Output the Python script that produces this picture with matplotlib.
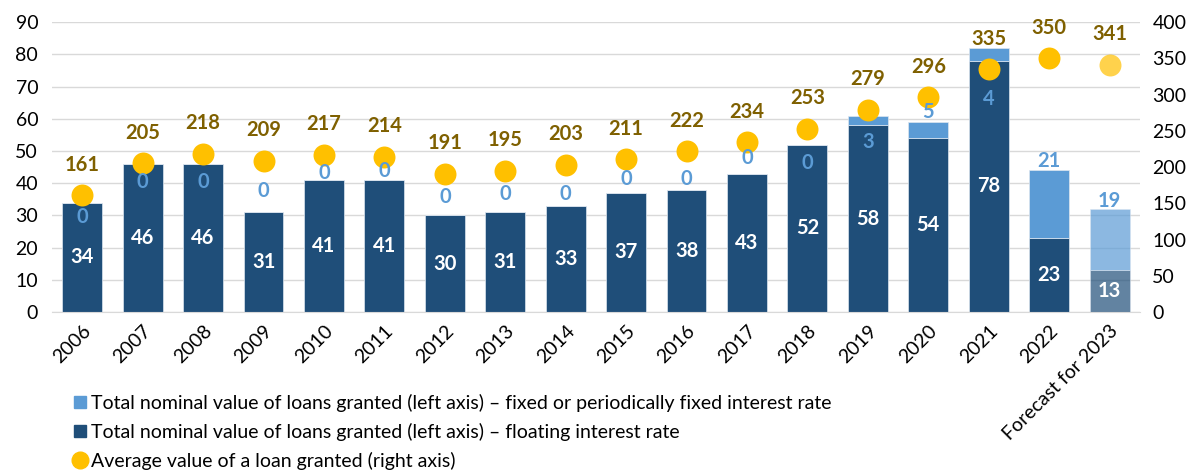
import matplotlib
matplotlib.use("Agg")
import matplotlib.pyplot as plt
from matplotlib.lines import Line2D
from matplotlib.patches import Patch
import numpy as np

plt.rcParams['font.family'] = ['Lato', 'DejaVu Sans']

categories = ['2006', '2007', '2008', '2009', '2010', '2011', '2012', '2013', '2014',
              '2015', '2016', '2017', '2018', '2019', '2020', '2021', '2022',
              'Forecast for 2023']
floating = [34, 46, 46, 31, 41, 41, 30, 31, 33, 37, 38, 43, 52, 58, 54, 78, 23, 13]
fixed = [0, 0, 0, 0, 0, 0, 0, 0, 0, 0, 0, 0, 0, 3, 5, 4, 21, 19]
avg_value = [161, 205, 218, 209, 217, 214, 191, 195, 203, 211, 222, 234, 253, 279, 296,
             335, 350, 341]
# where Excel left the fixed-rate data labels (left-axis units)
fixed_label_y = [29.5, 40.4, 40.4, 37.5, 43.2, 43.9, 35.8, 36.8, 36.8, 41.2, 41.2, 47.7,
                 46.3, 52.9, 62.0, 66.2, 47.0, 34.4]

C_FLOAT = '#1F4E79'
C_FIXED = '#5B9BD5'
C_DOT = '#FFC000'
C_AVG_TXT = '#7F6000'

x = np.arange(len(categories))
alpha = [0.7 if c.startswith('Forecast') else 1.0 for c in categories]

fig = plt.figure(figsize=(11.96, 4.70), dpi=100)
ax = fig.add_axes([0.0435, 0.336, 0.9095, 0.617])
ax2 = ax.twinx()

for i in x:
    ax.bar(i, floating[i], width=0.66, color=C_FLOAT, alpha=alpha[i],
           edgecolor='#DDE6F0', linewidth=0.5, zorder=2)
    ax.bar(i, fixed[i], bottom=floating[i], width=0.66, color=C_FIXED, alpha=alpha[i],
           edgecolor='#DDE6F0', linewidth=0.5, zorder=2)

for i in x:
    ax2.scatter(i, avg_value[i], s=250, color=C_DOT, alpha=alpha[i], linewidths=0, zorder=3)
    ax2.annotate(str(avg_value[i]), (i, avg_value[i]), xytext=(0, 22),
                 textcoords='offset points', ha='center', va='center',
                 fontsize=14.5, fontweight='bold', color=C_AVG_TXT, annotation_clip=False)
    ax2.text(i, floating[i] / 2, str(floating[i]), transform=ax.transData,
             ha='center', va='center', fontsize=14.5, fontweight='bold', color='white', zorder=4)
    ax2.text(i, fixed_label_y[i], str(fixed[i]), transform=ax.transData,
             ha='center', va='center', fontsize=14.5, fontweight='bold', color=C_FIXED, zorder=4)

ax.set_xlim(-0.5, len(categories) - 0.5)
ax.set_ylim(0, 90)
ax.set_yticks(np.arange(0, 91, 10))
ax2.set_ylim(0, 400)
ax2.set_yticks(np.arange(0, 401, 50))

ax.set_xticks(x)
ax.set_xticklabels(categories, rotation=45, ha='right', rotation_mode='anchor')
ax.grid(axis='y', color='#D9D9D9', linewidth=1, zorder=0)
ax.set_axisbelow(True)
for a in (ax, ax2):
    for s in a.spines.values():
        s.set_visible(False)
    a.tick_params(length=0, labelsize=14, colors='black')
ax.spines['bottom'].set_visible(True)
ax.spines['bottom'].set_color('#D9D9D9')
ax.tick_params(axis='y', pad=10)
ax.tick_params(axis='x', pad=7)
ax2.tick_params(axis='y', pad=9)

handles = [Patch(color=C_FIXED), Patch(color=C_FLOAT),
           Line2D([], [], marker='o', color=C_DOT, linestyle='none', markersize=12)]
labels = ['Total nominal value of loans granted (left axis) \u2013 fixed or periodically fixed interest rate',
          'Total nominal value of loans granted (left axis) \u2013 floating interest rate',
          'Average value of a loan granted (right axis)']
fig.legend(handles, labels, loc='upper left', bbox_to_anchor=(0.062, 0.162), frameon=False,
           fontsize=14, handlelength=0.6, handleheight=0.6, handletextpad=0.25,
           labelspacing=0.56, borderpad=0, borderaxespad=0)

fig.savefig('out.png', dpi=100)
